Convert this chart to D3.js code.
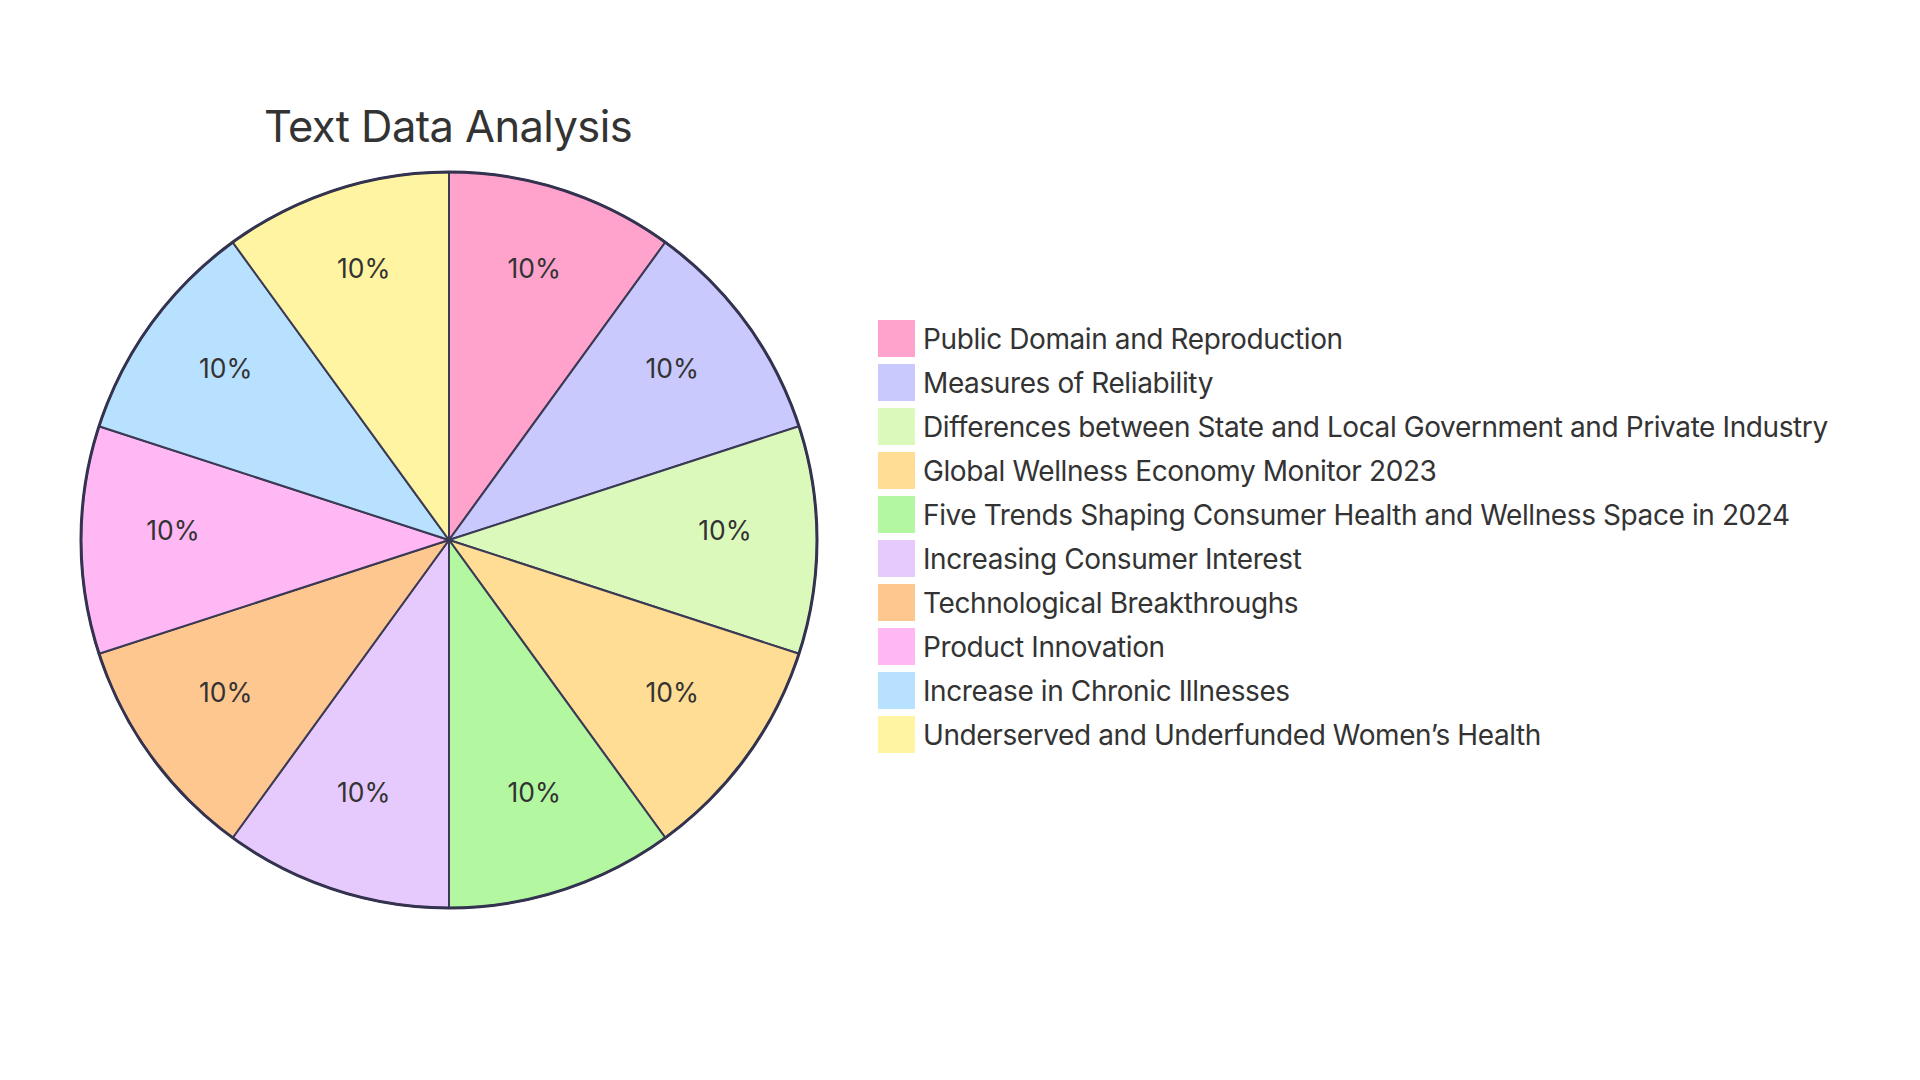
<!DOCTYPE html>
<html><head><meta charset="utf-8">
<script src="https://cdn.jsdelivr.net/npm/d3@7"></script>
<style>html,body{margin:0;padding:0;background:#fff;}svg{display:block;}</style>
</head><body>
<script>
const title = "Text Data Analysis";
const categories = [
  "Public Domain and Reproduction",
  "Measures of Reliability",
  "Differences between State and Local Government and Private Industry",
  "Global Wellness Economy Monitor 2023",
  "Five Trends Shaping Consumer Health and Wellness Space in 2024",
  "Increasing Consumer Interest",
  "Technological Breakthroughs",
  "Product Innovation",
  "Increase in Chronic Illnesses",
  "Underserved and Underfunded Women’s Health"
];
const values = [10, 10, 10, 10, 10, 10, 10, 10, 10, 10];
const colors = ["#ffa3cc", "#c9c9fd", "#dcf9bc", "#ffdd94", "#b3f7a0", "#e6c9fd", "#ffc790", "#ffb8f3", "#b8e1ff", "#fff4a1"];

const W = 1920, H = 1080;
const cx = 449, cy = 540, R = 368;
const font = "Inter, 'Open Sans', sans-serif";

const svg = d3.select("body").append("svg").attr("width", W).attr("height", H);

svg.append("text").attr("x", 448).attr("y", 142).attr("text-anchor", "middle")
  .attr("font-family", font).attr("font-size", 43.5).attr("fill", "#333")
  .attr("letter-spacing", -0.6)
  .text(title);

const data = categories.map((c, i) => ({ name: c, value: values[i], color: colors[i] }));
const pie = d3.pie().value(d => d.value).sort(null);
const arcs = pie(data);
const total = d3.sum(values);
const arc = d3.arc().innerRadius(0).outerRadius(R);
const labelArc = d3.arc().innerRadius(R * 0.75).outerRadius(R * 0.75);

const g = svg.append("g").attr("transform", `translate(${cx},${cy})`);
g.selectAll("path.slice").data(arcs).join("path").attr("class", "slice")
  .attr("d", arc).attr("fill", d => d.data.color)
  .attr("stroke", "#3a3a55").attr("stroke-width", 2);
g.append("circle").attr("r", R).attr("fill", "none").attr("stroke", "#333350").attr("stroke-width", 3);
g.selectAll("text.lbl").data(arcs).join("text").attr("class", "lbl")
  .attr("transform", d => `translate(${labelArc.centroid(d)})`)
  .attr("text-anchor", "middle")
  .attr("font-family", font).attr("font-size", 26.5).attr("fill", "#333")
  .text(d => d3.format(".0f")(d.data.value / total * 100) + "%");

const leg = svg.append("g").attr("transform", "translate(878,320)");
const rows = leg.selectAll("g").data(data).join("g").attr("transform", (d, i) => `translate(0,${i * 44})`);
rows.append("rect").attr("width", 37).attr("height", 37).attr("fill", d => d.color);
rows.append("text").attr("x", 45).attr("y", 18.5).attr("dominant-baseline", "central")
  .attr("font-family", font).attr("font-size", 28).attr("fill", "#333")
  .attr("letter-spacing", -0.4)
  .text(d => d.name);
</script>
</body></html>
